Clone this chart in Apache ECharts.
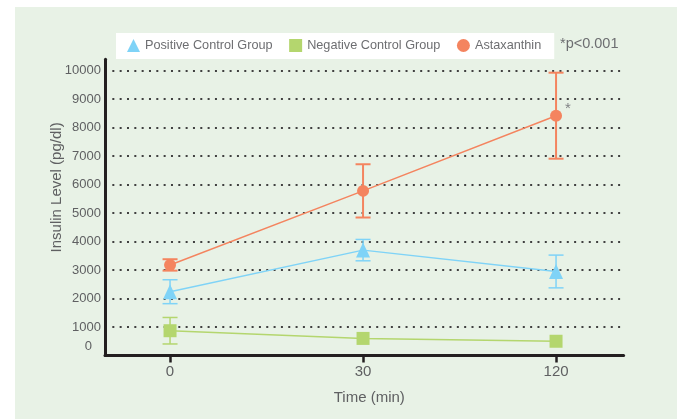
<!DOCTYPE html>
<html>
<head>
<meta charset="utf-8">
<script src="https://cdn.jsdelivr.net/npm/echarts@6/dist/echarts.min.js"></script>
<style>
  html, body { margin: 0; padding: 0; background: #ffffff; }
  #wrap { position: relative; width: 677px; height: 419px; overflow: hidden; }
  #panel { position: absolute; left: 15px; top: 7px; width: 662px; height: 412px; background: #e8f2e6; }
  #chart { position: absolute; left: 0; top: 0; width: 677px; height: 419px; }
</style>
</head>
<body>
<div id="wrap">
  <div id="panel"></div>
  <div id="chart"></div>
</div>
<script>
// Sampling times (min)
const timeLabels = ['0', '30', '120'];

// Insulin level (pg/dl): mean and error per time point
const positiveMean = [2240, 3700, 2950];
const positiveErr  = [420, 375, 575];
const negativeMean = [870, 600, 500];
const negativeErr  = [465, null, null];
const astaMean     = [3180, 5780, 8420];
const astaErr      = [200, 935, 1510];
const astaMark     = ['', '', '*'];

const FONT = '"Liberation Sans", Arial, sans-serif';
const TEXT = '#5f6062';
const AXIS = '#231f20';
const BLUE = '#7fd3f7';
const GREEN = '#b4d66e';
const ORANGE = '#f4845f';

function points(values) {
  return values.map((v, i) => [i, v]);
}

function errorBars(name, mean, err, color, width) {
  const data = [];
  mean.forEach((m, i) => {
    if (err[i] != null) data.push([i, m - err[i], m + err[i]]);
  });
  return {
    type: 'custom',
    name: name,
    data: data,
    encode: { x: 0, y: [1, 2] },
    silent: true,
    z: 1,
    renderItem: function (params, api) {
      const x = api.value(0);
      const lo = api.coord([x, api.value(1)]);
      const hi = api.coord([x, api.value(2)]);
      const half = 7.5;
      const style = { stroke: color, lineWidth: width, fill: null };
      return {
        type: 'group',
        children: [
          { type: 'line', shape: { x1: lo[0], y1: lo[1], x2: hi[0], y2: hi[1] }, style: style },
          { type: 'line', shape: { x1: lo[0] - half, y1: lo[1], x2: lo[0] + half, y2: lo[1] }, style: style },
          { type: 'line', shape: { x1: hi[0] - half, y1: hi[1], x2: hi[0] + half, y2: hi[1] }, style: style }
        ]
      };
    }
  };
}

const chart = echarts.init(document.getElementById('chart'), null, { renderer: 'canvas' });

chart.setOption({
  animation: false,
  backgroundColor: 'transparent',
  textStyle: { fontFamily: FONT },
  grid: { left: 105, right: 53.4, top: 59.3, bottom: 63.5, containLabel: false, outerBoundsMode: 'none' },
  legend: {
    left: 116,
    top: 33,
    padding: [6, 13, 7, 11],
    itemGap: 16.5,
    itemWidth: 13,
    itemHeight: 13,
    backgroundColor: '#ffffff',
    textStyle: { fontFamily: FONT, fontSize: 12.7, color: '#6d6e71' },
    data: [
      { name: 'Positive Control Group', icon: 'triangle' },
      { name: 'Negative Control Group', icon: 'rect' },
      { name: 'Astaxanthin', icon: 'circle' }
    ]
  },
  graphic: [
    {
      type: 'text',
      left: 560,
      top: 36,
      style: { text: '*p<0.001', font: '14.5px ' + FONT, fill: '#6d6e71' }
    }
  ],
  xAxis: {
    type: 'value',
    min: -0.337,
    max: 2.35,
    axisLine: { show: true, onZero: false, lineStyle: { color: AXIS, width: 3 } },
    axisTick: { show: true, customValues: [0, 1, 2], length: 7, lineStyle: { color: AXIS, width: 2.5 } },
    axisLabel: {
      customValues: [0, 1, 2],
      formatter: v => timeLabels[v],
      fontFamily: FONT, fontSize: 15, color: TEXT, margin: 9
    },
    splitLine: { show: false },
    name: 'Time (min)',
    nameLocation: 'middle',
    nameGap: 35,
    nameMoveOverlap: false,
    nameTextStyle: { fontFamily: FONT, fontSize: 15, color: TEXT, padding: [0, 0, 0, 10] }
  },
  yAxis: {
    type: 'value',
    min: 0,
    max: 10400,
    interval: 1000,
    axisLine: { show: true, onZero: false, lineStyle: { color: AXIS, width: 3 } },
    axisTick: { show: false },
    axisLabel: {
      showMaxLabel: false,
      fontFamily: FONT, fontSize: 13, color: TEXT, margin: 4,
      formatter: v => (v === 0 ? '{zero|0}' : String(v)),
      rich: { zero: { fontFamily: FONT, fontSize: 13, color: TEXT, padding: [0, 9, 18, 0] } }
    },
    splitLine: {
      show: true,
      showMinLine: false,
      showMaxLine: false,
      lineStyle: { type: [2, 5.33], width: 2, color: '#404040', cap: 'butt' }
    },
    name: 'Insulin Level (pg/dl)',
    nameLocation: 'middle',
    nameGap: 41,
    nameMoveOverlap: false,
    nameTextStyle: { fontFamily: FONT, fontSize: 15, color: TEXT, padding: [0, 0, 0, 40] }
  },
  series: [
    {
      type: 'line',
      name: 'Positive Control Group',
      data: points(positiveMean),
      symbol: 'triangle',
      symbolSize: [14, 15],
      color: BLUE,
      itemStyle: { color: BLUE },
      lineStyle: { color: BLUE, width: 1.5 },
      z: 3
    },
    {
      type: 'line',
      name: 'Negative Control Group',
      data: points(negativeMean),
      symbol: 'rect',
      symbolSize: 13,
      color: GREEN,
      itemStyle: { color: GREEN },
      lineStyle: { color: GREEN, width: 1.5 },
      z: 3
    },
    {
      type: 'line',
      name: 'Astaxanthin',
      data: points(astaMean),
      symbol: 'circle',
      symbolSize: 12,
      color: ORANGE,
      itemStyle: { color: ORANGE },
      lineStyle: { color: ORANGE, width: 1.5 },
      label: {
        show: true,
        position: 'right',
        distance: 3,
        offset: [0, -7],
        formatter: p => astaMark[p.dataIndex],
        fontFamily: FONT,
        fontSize: 15,
        color: '#808285'
      },
      z: 3
    },
    errorBars('Positive Control Group SD', positiveMean, positiveErr, BLUE, 1.5),
    errorBars('Negative Control Group SD', negativeMean, negativeErr, GREEN, 1.5),
    errorBars('Astaxanthin SD', astaMean, astaErr, ORANGE, 2)
  ]
});
</script>
</body>
</html>
